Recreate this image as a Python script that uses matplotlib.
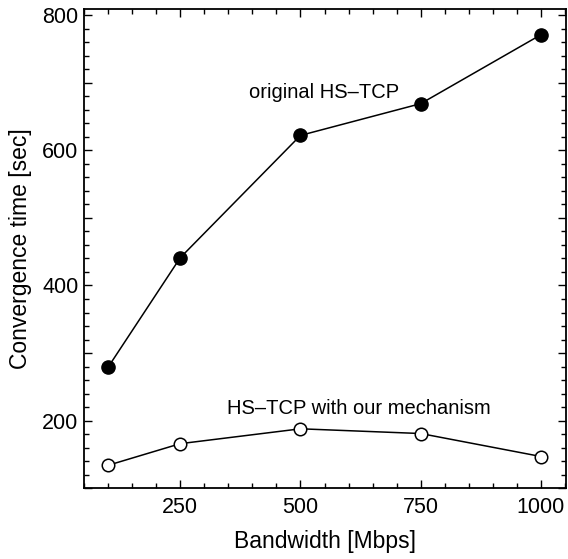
import matplotlib
matplotlib.use("Agg")
import matplotlib.pyplot as plt
from matplotlib.ticker import MultipleLocator, FixedLocator, FuncFormatter

plt.rcParams['font.family'] = ['Liberation Sans', 'DejaVu Sans']

bandwidth = [100, 250, 500, 750, 1000]
original = [279, 441, 622, 669, 771]
mechanism = [134, 166, 188, 181, 147]
x_ticks = [250, 500, 750, 1000]
y_label_ticks = [200, 400, 600, 800]

fig = plt.figure(figsize=(5.68, 5.59), dpi=100)
ax = fig.add_axes([0.1479, 0.1265, 0.9965 - 0.1479, 0.9839 - 0.1265])

ax.plot(bandwidth, original, color='black', lw=1.1, marker='o', ms=9.5,
        mfc='black', mec='black')
ax.plot(bandwidth, mechanism, color='black', lw=1.1, marker='o', ms=9,
        mfc='white', mec='black', mew=1.1)

ax.set_xlim(50, 1052)
ax.set_ylim(100, 809)

ax.xaxis.set_major_locator(FixedLocator(x_ticks))
ax.xaxis.set_minor_locator(MultipleLocator(50))
ax.yaxis.set_major_locator(MultipleLocator(100))
ax.yaxis.set_minor_locator(MultipleLocator(20))
ax.yaxis.set_major_formatter(FuncFormatter(
    lambda v, p: f"{int(round(v))}" if int(round(v)) in y_label_ticks else ""))

ax.tick_params(which='both', direction='in', top=True, right=True,
               labelsize=15.5, width=1.0, color='black')
ax.tick_params(which='major', length=6)
ax.tick_params(axis='x', which='major', pad=6)
ax.tick_params(axis='y', which='major', pad=4)
ax.tick_params(which='minor', length=3.5)
for s in ax.spines.values():
    s.set_linewidth(1.3)

ax.set_xlabel('Bandwidth [Mbps]', fontsize=16.5, labelpad=9)
ax.set_ylabel('Convergence time [sec]', fontsize=16.5, labelpad=7)

ax.text(550, 678, 'original HS\u2013TCP', fontsize=14.5, ha='center', va='baseline')
ax.text(622, 210, 'HS\u2013TCP with our mechanism', fontsize=14.5, ha='center', va='baseline')

fig.savefig('out.png', dpi=100)
